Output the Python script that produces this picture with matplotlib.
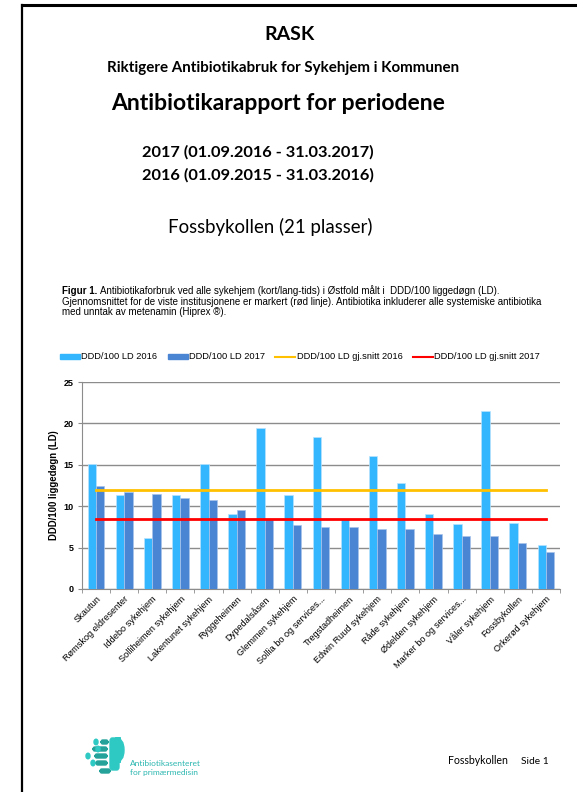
import numpy as np
import matplotlib
matplotlib.use("Agg")
import matplotlib.pyplot as plt
from matplotlib.patches import Patch, FancyBboxPatch, Circle
from matplotlib.lines import Line2D

# data
homes = ["Skautun", "Rømskog eldresenter", "Iddebo sykehjem", "Solliheimen sykehjem",
         "Lakentunet sykehjem", "Ryggeheimen", "Dypedalsåsen", "Glemmen sykehjem",
         "Sollia bo og services...", "Tregstadheimen", "Edwin Ruud sykehjem", "Råde sykehjem",
         "Ødelden sykehjem", "Marker bo og services...", "Våler sykehjem", "Fossbykollen",
         "Orkerød sykehjem"]
ddd_2016 = [15.1, 11.3, 6.2, 11.3, 15.1, 9.1, 19.4, 11.4, 18.4, 8.5, 16.1, 12.8, 9.0, 7.8, 21.5, 8.0, 5.3]
ddd_2017 = [12.5, 11.7, 11.5, 11.0, 10.7, 9.6, 8.5, 7.7, 7.5, 7.5, 7.3, 7.3, 6.7, 6.4, 6.4, 5.5, 4.5]
avg_2016 = 11.9
avg_2017 = 8.5
yticks = [0, 5, 10, 15, 20, 25]

C16, C17 = "#33b6fd", "#4a85d3"
W, H = 577, 792


def fx(x):
    return x / W


def fy(y):
    return 1 - y / H


fig = plt.figure(figsize=(W / 100, H / 100), dpi=100)

# page frame (left and top edges)
fig.add_artist(Line2D([fx(22), fx(22)], [fy(5), 0], color="black", lw=1.6))
fig.add_artist(Line2D([fx(22), 1], [fy(5), fy(5)], color="black", lw=2.2))

head = "Lato"
fig.text(fx(290), fy(34), "RASK", ha="center", va="center", fontsize=14, fontweight="bold", family=head)
fig.text(fx(283), fy(68), "Riktigere Antibiotikabruk for Sykehjem i Kommunen", ha="center", va="center",
         fontsize=10.9, fontweight="bold", family=head)
fig.text(fx(278), fy(104), "Antibiotikarapport for periodene", ha="center", va="center",
         fontsize=16.5, fontweight="bold", family=head)
fig.text(fx(142), fy(152), "2017 (01.09.2016 - 31.03.2017)", ha="left", va="center",
         fontsize=11.8, fontweight="bold", family=head)
fig.text(fx(142), fy(175), "2016 (01.09.2015 - 31.03.2016)", ha="left", va="center",
         fontsize=11.8, fontweight="bold", family=head)
fig.text(fx(270), fy(227), "Fossbykollen (21 plasser)", ha="center", va="center",
         fontsize=13.4, family=head)

# caption
cap = "Liberation Sans"
fig.text(fx(62), fy(291), "Figur 1.", ha="left", va="center", fontsize=7, fontweight="bold", family=cap)
fig.text(fx(100), fy(291), "Antibiotikaforbruk ved alle sykehjem (kort/lang-tids) i Østfold målt i  DDD/100 liggedøgn (LD).",
         ha="left", va="center", fontsize=7, family=cap)
fig.text(fx(62), fy(302), "Gjennomsnittet for de viste institusjonene er markert (rød linje). Antibiotika inkluderer alle systemiske antibiotika",
         ha="left", va="center", fontsize=7, family=cap)
fig.text(fx(62), fy(312), "med unntak av metenamin (Hiprex ®).", ha="left", va="center", fontsize=7, family=cap)

# chart
ax = fig.add_axes([fx(82), fy(589), (560 - 82) / W, (589 - 382) / H])
x = np.arange(len(homes))
bw = 0.3
ax.bar(x - bw / 2, ddd_2016, bw, color=C16, edgecolor="#b8e4ff", linewidth=0.5, zorder=3)
ax.bar(x + bw / 2, ddd_2017, bw, color=C17, edgecolor="#a9c3ea", linewidth=0.5, zorder=3)
ax.plot([0, len(homes) - 1], [avg_2016] * 2, color="#ffc000", lw=2, zorder=4)
ax.plot([0, len(homes) - 1], [avg_2017] * 2, color="#ff0000", lw=2, zorder=4)

ax.set_xlim(-0.5, len(homes) - 0.5)
ax.set_ylim(0, 25)
ax.set_yticks(yticks)
ax.set_yticklabels([str(t) for t in yticks], fontsize=6.5, fontweight="bold", family=cap)
ax.yaxis.grid(True, color="#8c8c8c", lw=1, zorder=0)
for s in ["top", "right"]:
    ax.spines[s].set_visible(False)
ax.spines["left"].set_color("#8c8c8c")
ax.spines["bottom"].set_color("#8c8c8c")
ax.tick_params(axis="y", length=3, color="#8c8c8c", pad=3)
ax.set_xticks(x)
ax.set_xticklabels(homes, rotation=45, ha="right", rotation_mode="anchor", fontsize=6.6, family=cap)
ax.tick_params(axis="x", length=0, pad=4)
ax.set_xticks(np.arange(-0.5, len(homes), 1), minor=True)
ax.tick_params(axis="x", which="minor", length=3, color="#8c8c8c")
ax.set_ylabel("DDD/100 liggedøgn (LD)", fontsize=6.9, fontweight="bold", family=cap, labelpad=3)

handles = [Patch(color=C16), Patch(color=C17),
           Line2D([], [], color="#ffc000", lw=1.5), Line2D([], [], color="#ff0000", lw=1.5)]
labels = ["DDD/100 LD 2016", "DDD/100 LD 2017", "DDD/100 LD gj.snitt 2016", "DDD/100 LD gj.snitt 2017"]
fig.legend(handles, labels, loc="center", bbox_to_anchor=(fx(300), fy(357)), ncol=4, frameon=False,
           prop={"family": cap, "size": 6.7}, handlelength=2.15, handleheight=0.5, handletextpad=0.15,
           columnspacing=1.1)

# footer logo
teal, dteal = "#2fc9c4", "#25a39b"
fig.add_artist(FancyBboxPatch((fx(110), fy(770)), fx(9), fy(738) - fy(770),
                              boxstyle="round,pad=0,rounding_size=0.004", color=teal))
fig.add_artist(FancyBboxPatch((fx(112), fy(762)), fx(12), fy(738) - fy(762),
                              boxstyle="round,pad=0,rounding_size=0.015", color=teal))
for yy, x0, w in [(742, 101, 7), (749, 93, 14), (756, 95, 12), (763, 96, 11), (771, 100, 10)]:
    fig.add_artist(FancyBboxPatch((fx(x0), fy(yy + 2)), fx(w), fy(yy - 2) - fy(yy + 2),
                                  boxstyle="round,pad=0,rounding_size=0.003", color=dteal))
for xx, yy in [(96, 742), (88, 756), (93, 763), (98, 749)]:
    fig.add_artist(Circle((fx(xx), fy(yy)), 0.0035, color=teal, transform=fig.transFigure))
fig.text(fx(130), fy(763), "Antibiotikasenteret", ha="left", va="center", fontsize=6, color="#2bb7b0", family=head)
fig.text(fx(130), fy(773), "for primærmedisin", ha="left", va="center", fontsize=6, color="#2bb7b0", family=head)
fig.text(fx(448), fy(761), "Fossbykollen", ha="left", va="center", fontsize=7.6, family=head)
fig.text(fx(521), fy(761), "Side 1", ha="left", va="center", fontsize=7.4, family=head)

fig.savefig("out.png", dpi=100)
